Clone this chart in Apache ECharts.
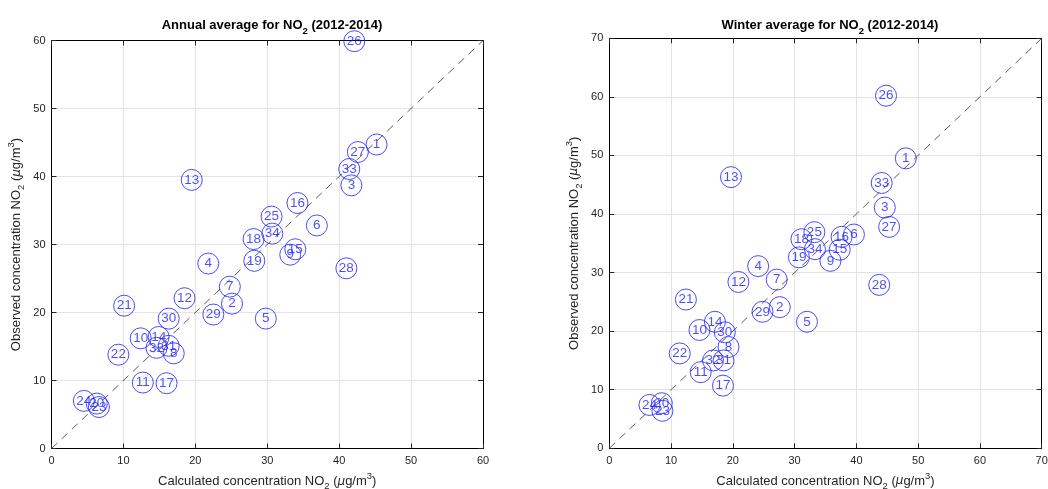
<!DOCTYPE html>
<html>
<head>
<meta charset="utf-8">
<script src="https://cdn.jsdelivr.net/npm/echarts@6/dist/echarts.min.js"></script>
<style>
html,body{margin:0;padding:0;background:#fff;}
#chart{width:1048px;height:489px;}
</style>
</head>
<body>
<div id="chart"></div>
<script>
// ---- data ----
const stationIds = [1,2,3,4,5,6,7,8,9,10,11,12,13,14,15,16,17,18,19,20,21,22,23,24,25,26,27,28,29,30,31,32,33,34];
const annualCalc = [45.2,25.1,41.7,21.8,29.8,36.9,24.8,17.0,33.2,12.4,12.7,18.5,19.5,14.9,33.9,34.2,16.0,28.1,28.2,6.3,10.1,9.3,6.6,4.5,30.6,42.1,42.6,41.0,22.5,16.3,16.3,14.6,41.4,30.7];
const annualObs  = [44.7,21.3,38.7,27.2,19.1,32.8,23.8,14.0,28.5,16.2,9.7,22.1,39.5,16.4,29.3,36.1,9.6,30.8,27.6,6.6,21.0,13.8,6.1,7.0,34.1,59.9,43.6,26.5,19.7,19.1,15.1,14.8,41.1,31.6];
const winterCalc = [48.0,27.6,44.6,24.1,32.0,39.6,27.1,19.3,35.8,14.6,14.8,20.9,19.7,17.1,37.3,37.6,18.4,31.1,30.7,8.5,12.4,11.4,8.6,6.5,33.2,44.8,45.3,43.7,24.8,18.7,18.5,16.8,44.1,33.3];
const winterObs  = [49.5,24.1,41.1,31.1,21.6,36.5,28.8,17.3,32.0,20.2,13.0,28.4,46.3,21.6,33.9,36.1,10.7,35.7,32.6,7.7,25.4,16.2,6.4,7.4,36.9,60.2,37.8,27.9,23.3,19.8,15.0,15.0,45.3,34.0];
const annualTicks = [0,10,20,30,40,50,60];
const winterTicks = [0,10,20,30,40,50,60,70];
const annualMax = 60, winterMax = 70;

const FONT = "'Liberation Sans', Arial, Helvetica, sans-serif";
const BLUE = '#1f1fff';

function pts(xs, ys){ return stationIds.map((id,i)=>({value:[xs[i], ys[i]], name:String(id)})); }

const textRich = {
  a:{fontFamily:FONT,fontSize:13,color:'#262626'},
  s:{fontFamily:FONT,fontSize:9.5,color:'#262626',padding:[10,0,0,0]},
  m:{fontFamily:'DejaVu Sans',fontSize:12,color:'#262626',fontStyle:'italic'},
  p:{fontFamily:FONT,fontSize:9.5,color:'#262626',padding:[0,0,10,0]}
};
const titleRich = {
  a:{fontFamily:FONT,fontSize:13,fontWeight:'bold',color:'#000'},
  s:{fontFamily:FONT,fontSize:9.5,fontWeight:'bold',color:'#000',padding:[11,0,0,0]}
};
const xName = '{a|Calculated concentration NO}{s|2}{a| (}{m|μ}{a|g/m}{p|3}{a|)}';
const yName = '{a|Observed concentration NO}{s|2}{a| (}{m|μ}{a|g/m}{p|3}{a|)}';

const grids = [
  {left:51.5, top:40.5, width:431.5, height:408, outerBoundsMode:'none', containLabel:false},
  {left:609.3, top:38.3, width:432.4, height:410, outerBoundsMode:'none', containLabel:false}
];
const maxes = [annualMax, winterMax];

function mainX(g){
  return {gridIndex:g, type:'value', min:0, max:maxes[g], interval:10, position:'bottom',
    name:xName, nameLocation:'middle', nameGap:20, nameTextStyle:{rich:textRich},
    axisLine:{show:true, onZero:false, lineStyle:{color:'#000', width:1}},
    axisTick:{show:true, inside:true, length:5, lineStyle:{color:'#262626'}},
    axisLabel:{show:true, color:'#262626', fontSize:11, fontFamily:FONT, margin:7},
    splitLine:{show:true, lineStyle:{color:'#e3e3e3', width:1}}};
}
function mirrorX(g){
  return {gridIndex:g, type:'value', min:0, max:maxes[g], interval:10, position:'top',
    axisLine:{show:true, onZero:false, lineStyle:{color:'#000', width:1}},
    axisTick:{show:true, inside:true, length:5, lineStyle:{color:'#262626'}},
    axisLabel:{show:false}, splitLine:{show:false}};
}
function mainY(g){
  return {gridIndex:g, type:'value', min:0, max:maxes[g], interval:10, position:'left',
    name:yName, nameLocation:'middle', nameGap:25, nameRotate:90, nameTextStyle:{rich:textRich},
    axisLine:{show:true, onZero:false, lineStyle:{color:'#000', width:1}},
    axisTick:{show:true, inside:true, length:5, lineStyle:{color:'#262626'}},
    axisLabel:{show:true, color:'#262626', fontSize:11, fontFamily:FONT, margin:6},
    splitLine:{show:true, lineStyle:{color:'#e3e3e3', width:1}}};
}
function mirrorY(g){
  return {gridIndex:g, type:'value', min:0, max:maxes[g], interval:10, position:'right',
    axisLine:{show:true, onZero:false, lineStyle:{color:'#000', width:1}},
    axisTick:{show:true, inside:true, length:5, lineStyle:{color:'#262626'}},
    axisLabel:{show:false}, splitLine:{show:false}};
}

function scatter(g, data){
  return {type:'scatter', xAxisIndex:g*2, yAxisIndex:g*2, data:data, symbol:'circle', symbolSize:21,
    itemStyle:{color:'rgba(0,0,0,0)', borderColor:BLUE, borderWidth:1},
    label:{show:true, position:'inside', formatter:p=>p.name, color:BLUE, fontSize:13.5, fontFamily:FONT},
    emphasis:{disabled:true}, z:3, animation:false};
}
function diag(g){
  return {type:'line', xAxisIndex:g*2, yAxisIndex:g*2, data:[[0,0],[maxes[g],maxes[g]]], symbol:'none',
    lineStyle:{color:'#333', width:0.8, type:[8,6]}, silent:true, z:2, animation:false};
}

const chart = echarts.init(document.getElementById('chart'), null, {renderer:'canvas'});
chart.setOption({
  backgroundColor:'#fff',
  animation:false,
  title:[
    {text:'{a|Annual average for NO}{s|2}{a| (2012-2014)}', left:267, top:10, textAlign:'center', textStyle:{rich:titleRich}},
    {text:'{a|Winter average for NO}{s|2}{a| (2012-2014)}', left:825, top:10, textAlign:'center', textStyle:{rich:titleRich}}
  ],
  grid:grids,
  xAxis:[mainX(0), mirrorX(0), mainX(1), mirrorX(1)],
  yAxis:[mainY(0), mirrorY(0), mainY(1), mirrorY(1)],
  series:[diag(0), scatter(0, pts(annualCalc, annualObs)), diag(1), scatter(1, pts(winterCalc, winterObs))]
});
</script>
</body>
</html>
